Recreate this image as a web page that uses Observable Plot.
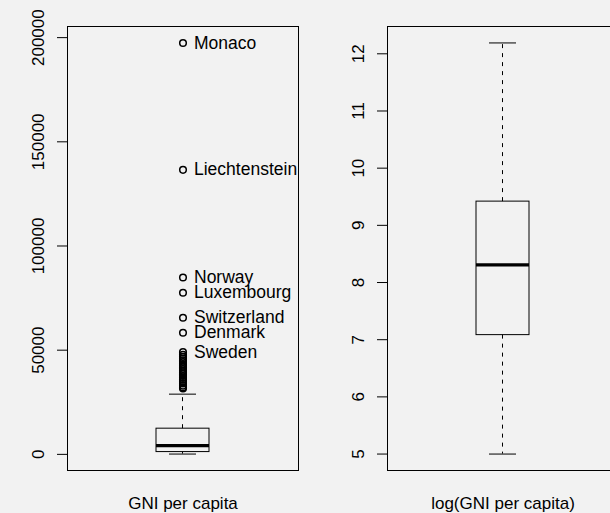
<!DOCTYPE html>
<html><head><meta charset="utf-8">
<script src="https://cdn.jsdelivr.net/npm/d3@7"></script>
<script src="https://cdn.jsdelivr.net/npm/@observablehq/plot@0.6"></script>
<style>
html,body{margin:0;padding:0;background:#f2f2f2;}
#fig{position:relative;width:610px;height:513px;overflow:hidden;background:#f2f2f2;font-family:"Liberation Sans",Arial,sans-serif;}
#fig > svg{position:absolute;top:0;}
</style></head><body><div id="fig"></div>
<script>
// Panel labels
const panelLabels = ["GNI per capita", "log(GNI per capita)"];
// Box statistics: lower whisker, Q1, median, Q3, upper whisker
const gniStats = [148, 1100, 4170, 12330, 28900];
const logGniStats = [5.00, 7.08, 8.31, 9.415, 12.19];
// Outliers of the raw GNI panel (descending) and their labels
const gniOutliers = [197450, 136550, 84900, 77550, 65560, 58370, 49060,
  47800, 46800, 46000, 45200, 44300, 43400, 42600, 41800, 41000, 40200,
  39400, 38500, 37600, 36700, 35800, 35000, 34000, 33000, 32200, 31600];
const gniOutlierNames = ["Monaco", "Liechtenstein", "Norway", "Luxembourg",
  "Switzerland", "Denmark", "Sweden"];
const logGniOutliers = [];
// Tick labels
const gniTicks = [0, 50000, 100000, 150000, 200000];
const logGniTicks = [5, 6, 7, 8, 9, 10, 11, 12];

const FONT = '"Liberation Sans", Arial, Helvetica, sans-serif';

function panel(label, stats, outliers, names, ticks, left) {
  const [lo, q1, med, q3, hi] = stats;
  const [mn, mx] = d3.extent([lo, hi, ...outliers]);
  const pad = (mx - mn) * 0.04;
  const row = [{k: label, lo, q1, med, q3, hi}];
  const pts = outliers.map((v, i) => ({k: label, v, name: names[i] ?? ""}));
  const svg = Plot.plot({
    width: 320, height: 513,
    marginLeft: 67, marginRight: 22, marginTop: 26, marginBottom: 43,
    style: {background: "transparent", fontFamily: FONT, fontSize: "17px", color: "black", overflow: "visible"},
    x: {type: "band", domain: [label], padding: 0.6267, axis: null},
    y: {domain: [mn - pad, mx + pad], axis: null},
    marks: [
      Plot.ruleX(row, {x: "k", y1: "q3", y2: "hi", dx: -0.5, stroke: "black", strokeDasharray: "4,5"}),
      Plot.ruleX(row, {x: "k", y1: "q1", y2: "lo", dx: -0.5, stroke: "black", strokeDasharray: "4,5"}),
      Plot.tickY(row, {x: "k", y: "hi", stroke: "black", insetLeft: 13, insetRight: 13}),
      Plot.tickY(row, {x: "k", y: "lo", stroke: "black", insetLeft: 13, insetRight: 13}),
      Plot.barY(row, {x: "k", y1: "q1", y2: "q3", fill: "none", stroke: "black"}),
      Plot.tickY(row, {x: "k", y: "med", stroke: "black", strokeWidth: 3.3}),
      Plot.dot(pts, {x: "k", y: "v", r: 3.3, stroke: "black", fill: "none"}),
      Plot.text(pts, {x: "k", y: "v", text: "name", dx: 11, textAnchor: "start", fontSize: 17.5, fill: "black"}),
      Plot.axisY({ticks, tickFormat: d => String(d), tickSize: 10, tickPadding: 14, tickRotate: -90, fontSize: 17, stroke: "black", label: null}),
      Plot.text([label], {frameAnchor: "bottom", dy: 38, lineAnchor: "bottom", fontSize: 17, fill: "black"}),
      Plot.frame({stroke: "black"})
    ]
  });
  svg.style.left = left + "px";
  return svg;
}

const fig = document.getElementById("fig");
fig.appendChild(panel(panelLabels[0], gniStats, gniOutliers, gniOutlierNames, gniTicks, 0));
fig.appendChild(panel(panelLabels[1], logGniStats, logGniOutliers, [], logGniTicks, 320));
</script></body></html>
